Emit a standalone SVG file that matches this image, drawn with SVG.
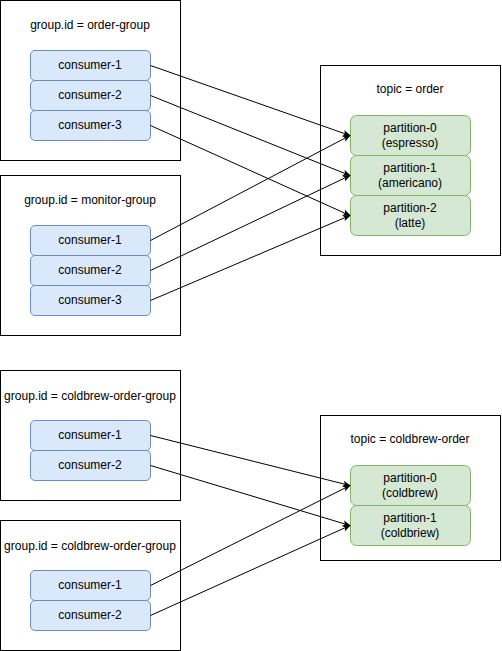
<svg xmlns="http://www.w3.org/2000/svg" width="502" height="651" viewBox="0 0 502 651">
<defs>
<style>
.box{fill:#ffffff;stroke:#000000;stroke-width:1}
.cons{fill:#dae8fc;stroke:#6c8ebf;stroke-width:1}
.part{fill:#d5e8d4;stroke:#82b366;stroke-width:1}
text{font-family:"Liberation Sans",Arial,Helvetica,sans-serif;font-size:12px;fill:#000000;text-anchor:middle;dominant-baseline:central}
.edge{fill:none;stroke:#000000;stroke-width:1;marker-end:url(#arr)}
</style>
<marker id="arr" viewBox="0 0 10 10" refX="9" refY="5" markerWidth="8" markerHeight="8" markerUnits="userSpaceOnUse" orient="auto">
<path d="M0,1 L10,5 L0,9 L2.5,5 Z" fill="#000"/>
</marker>
</defs>
<rect width="502" height="651" fill="#ffffff"/>

<g id="group-order">
<rect class="box" x="0.5" y="0.5" width="180" height="160"/>
<text x="90" y="25">group.id = order-group</text>
</g>
<g id="g1-consumer-1"><rect class="cons" x="30.5" y="50.5" width="120" height="30" rx="4.5"/><text x="90" y="65">consumer-1</text></g>
<g id="g1-consumer-2"><rect class="cons" x="30.5" y="80.5" width="120" height="30" rx="4.5"/><text x="90" y="95">consumer-2</text></g>
<g id="g1-consumer-3"><rect class="cons" x="30.5" y="110.5" width="120" height="30" rx="4.5"/><text x="90" y="125">consumer-3</text></g>

<g id="group-monitor">
<rect class="box" x="0.5" y="175.5" width="180" height="160"/>
<text x="90" y="200">group.id = monitor-group</text>
</g>
<g id="g2-consumer-1"><rect class="cons" x="30.5" y="225.5" width="120" height="30" rx="4.5"/><text x="90" y="240">consumer-1</text></g>
<g id="g2-consumer-2"><rect class="cons" x="30.5" y="255.5" width="120" height="30" rx="4.5"/><text x="90" y="270">consumer-2</text></g>
<g id="g2-consumer-3"><rect class="cons" x="30.5" y="285.5" width="120" height="30" rx="4.5"/><text x="90" y="300">consumer-3</text></g>

<g id="topic-order">
<rect class="box" x="320.5" y="65.5" width="180" height="190"/>
<text x="410" y="89">topic = order</text>
</g>
<g id="t1-partition-0"><rect class="part" x="350.5" y="115.5" width="120" height="40" rx="6"/><text x="410" y="128">partition-0</text><text x="410" y="143">(espresso)</text></g>
<g id="t1-partition-1"><rect class="part" x="350.5" y="155.5" width="120" height="40" rx="6"/><text x="410" y="168">partition-1</text><text x="410" y="183">(americano)</text></g>
<g id="t1-partition-2"><rect class="part" x="350.5" y="195.5" width="120" height="40" rx="6"/><text x="410" y="208">partition-2</text><text x="410" y="223">(latte)</text></g>

<g id="group-coldbrew-1">
<rect class="box" x="0.5" y="370.5" width="180" height="130"/>
<text x="90" y="396">group.id = coldbrew-order-group</text>
</g>
<g id="g3-consumer-1"><rect class="cons" x="30.5" y="420.5" width="120" height="30" rx="4.5"/><text x="90" y="435">consumer-1</text></g>
<g id="g3-consumer-2"><rect class="cons" x="30.5" y="450.5" width="120" height="30" rx="4.5"/><text x="90" y="465">consumer-2</text></g>

<g id="group-coldbrew-2">
<rect class="box" x="0.5" y="520.5" width="180" height="130"/>
<text x="90" y="546">group.id = coldbrew-order-group</text>
</g>
<g id="g4-consumer-1"><rect class="cons" x="30.5" y="570.5" width="120" height="30" rx="4.5"/><text x="90" y="585">consumer-1</text></g>
<g id="g4-consumer-2"><rect class="cons" x="30.5" y="600.5" width="120" height="30" rx="4.5"/><text x="90" y="615">consumer-2</text></g>

<g id="topic-coldbrew-order">
<rect class="box" x="320.5" y="415.5" width="180" height="145"/>
<text x="410" y="439">topic = coldbrew-order</text>
</g>
<g id="t2-partition-0"><rect class="part" x="350.5" y="465.5" width="120" height="40" rx="6"/><text x="410" y="478">partition-0</text><text x="410" y="493">(coldbrew)</text></g>
<g id="t2-partition-1"><rect class="part" x="350.5" y="505.5" width="120" height="40" rx="6"/><text x="410" y="518">partition-1</text><text x="410" y="533">(coldbriew)</text></g>

<g id="connectors">
<path class="edge" d="M150.5,65.5 L350,135.5"/>
<path class="edge" d="M150.5,95.5 L350,175.5"/>
<path class="edge" d="M150.5,125.5 L350,215.5"/>
<path class="edge" d="M150.5,240.5 L350,135.5"/>
<path class="edge" d="M150.5,270.5 L350,175.5"/>
<path class="edge" d="M150.5,300.5 L350,215.5"/>
<path class="edge" d="M150.5,435.5 L350,485.5"/>
<path class="edge" d="M150.5,465.5 L350,525.5"/>
<path class="edge" d="M150.5,585.5 L350,485.5"/>
<path class="edge" d="M150.5,615.5 L350,525.5"/>
</g>
</svg>
